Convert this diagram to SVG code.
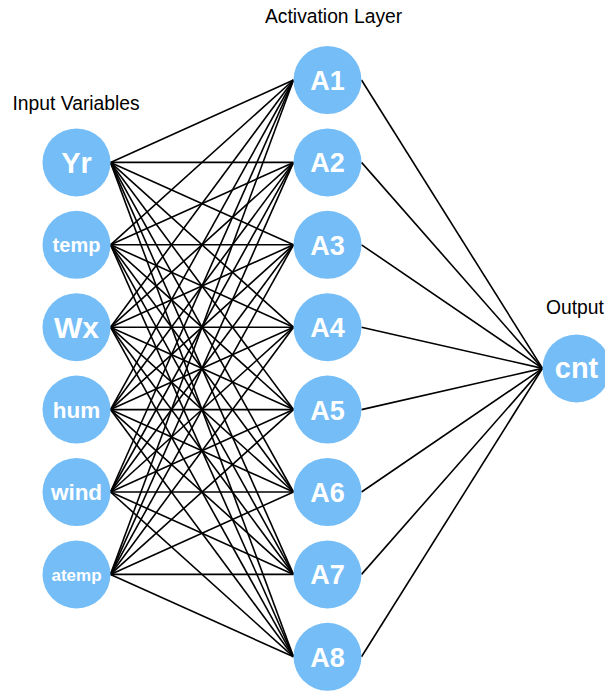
<svg xmlns="http://www.w3.org/2000/svg" width="605" height="691" viewBox="0 0 605 691">
<style>
.n{fill:#74bdf7}
.t{font-family:"Liberation Sans",Arial,sans-serif;font-weight:bold;fill:#fff;text-anchor:middle}
.h{font-family:"Liberation Sans",Arial,sans-serif;font-size:19.3px;fill:#000}
#edges line{stroke:#000;stroke-width:1.6}
</style>
<rect width="605" height="691" fill="#fff"/>
<g id="edges">
<line x1="110.5" y1="162.4" x2="293.5" y2="80"/><line x1="110.5" y1="162.4" x2="293.5" y2="162.4"/><line x1="110.5" y1="162.4" x2="293.5" y2="244.8"/><line x1="110.5" y1="162.4" x2="293.5" y2="327.2"/><line x1="110.5" y1="162.4" x2="293.5" y2="409.6"/><line x1="110.5" y1="162.4" x2="293.5" y2="492"/><line x1="110.5" y1="162.4" x2="293.5" y2="574.4"/><line x1="110.5" y1="162.4" x2="293.5" y2="656.8"/>
<line x1="110.5" y1="244.8" x2="293.5" y2="80"/><line x1="110.5" y1="244.8" x2="293.5" y2="162.4"/><line x1="110.5" y1="244.8" x2="293.5" y2="244.8"/><line x1="110.5" y1="244.8" x2="293.5" y2="327.2"/><line x1="110.5" y1="244.8" x2="293.5" y2="409.6"/><line x1="110.5" y1="244.8" x2="293.5" y2="492"/><line x1="110.5" y1="244.8" x2="293.5" y2="574.4"/><line x1="110.5" y1="244.8" x2="293.5" y2="656.8"/>
<line x1="110.5" y1="327.2" x2="293.5" y2="80"/><line x1="110.5" y1="327.2" x2="293.5" y2="162.4"/><line x1="110.5" y1="327.2" x2="293.5" y2="244.8"/><line x1="110.5" y1="327.2" x2="293.5" y2="327.2"/><line x1="110.5" y1="327.2" x2="293.5" y2="409.6"/><line x1="110.5" y1="327.2" x2="293.5" y2="492"/><line x1="110.5" y1="327.2" x2="293.5" y2="574.4"/><line x1="110.5" y1="327.2" x2="293.5" y2="656.8"/>
<line x1="110.5" y1="409.6" x2="293.5" y2="80"/><line x1="110.5" y1="409.6" x2="293.5" y2="162.4"/><line x1="110.5" y1="409.6" x2="293.5" y2="244.8"/><line x1="110.5" y1="409.6" x2="293.5" y2="327.2"/><line x1="110.5" y1="409.6" x2="293.5" y2="409.6"/><line x1="110.5" y1="409.6" x2="293.5" y2="492"/><line x1="110.5" y1="409.6" x2="293.5" y2="574.4"/><line x1="110.5" y1="409.6" x2="293.5" y2="656.8"/>
<line x1="110.5" y1="492" x2="293.5" y2="80"/><line x1="110.5" y1="492" x2="293.5" y2="162.4"/><line x1="110.5" y1="492" x2="293.5" y2="244.8"/><line x1="110.5" y1="492" x2="293.5" y2="327.2"/><line x1="110.5" y1="492" x2="293.5" y2="409.6"/><line x1="110.5" y1="492" x2="293.5" y2="492"/><line x1="110.5" y1="492" x2="293.5" y2="574.4"/><line x1="110.5" y1="492" x2="293.5" y2="656.8"/>
<line x1="110.5" y1="574.4" x2="293.5" y2="80"/><line x1="110.5" y1="574.4" x2="293.5" y2="162.4"/><line x1="110.5" y1="574.4" x2="293.5" y2="244.8"/><line x1="110.5" y1="574.4" x2="293.5" y2="327.2"/><line x1="110.5" y1="574.4" x2="293.5" y2="409.6"/><line x1="110.5" y1="574.4" x2="293.5" y2="492"/><line x1="110.5" y1="574.4" x2="293.5" y2="574.4"/><line x1="110.5" y1="574.4" x2="293.5" y2="656.8"/>
<line x1="361.5" y1="80" x2="542.5" y2="368.4"/><line x1="361.5" y1="162.4" x2="542.5" y2="368.4"/><line x1="361.5" y1="244.8" x2="542.5" y2="368.4"/><line x1="361.5" y1="327.2" x2="542.5" y2="368.4"/><line x1="361.5" y1="409.6" x2="542.5" y2="368.4"/><line x1="361.5" y1="492" x2="542.5" y2="368.4"/><line x1="361.5" y1="574.4" x2="542.5" y2="368.4"/><line x1="361.5" y1="656.8" x2="542.5" y2="368.4"/>
</g>
<text class="h" x="12.5" y="110">Input Variables</text>
<text class="h" x="265" y="23.3">Activation Layer</text>
<text class="h" x="546" y="314.3">Output</text>
<g id="yr"><circle class="n" cx="76.5" cy="162.4" r="34"/><text class="t" x="76.5" y="172.8" font-size="29">Yr</text></g>
<g id="temp"><circle class="n" cx="76.5" cy="244.8" r="34"/><text class="t" x="76.5" y="251.8" font-size="20">temp</text></g>
<g id="wx"><circle class="n" cx="76.5" cy="327.2" r="34"/><text class="t" x="76.5" y="338" font-size="30">Wx</text></g>
<g id="hum"><circle class="n" cx="76.5" cy="409.6" r="34"/><text class="t" x="76.5" y="417.6" font-size="22.5">hum</text></g>
<g id="wind"><circle class="n" cx="76.5" cy="492" r="34"/><text class="t" x="76.5" y="500" font-size="22.5">wind</text></g>
<g id="atemp"><circle class="n" cx="76.5" cy="574.4" r="34"/><text class="t" x="76.5" y="580.5" font-size="17">atemp</text></g>
<g id="a1"><circle class="n" cx="327.5" cy="80" r="34"/><text class="t" x="327.5" y="90" font-size="27">A1</text></g>
<g id="a2"><circle class="n" cx="327.5" cy="162.4" r="34"/><text class="t" x="327.5" y="172.4" font-size="27">A2</text></g>
<g id="a3"><circle class="n" cx="327.5" cy="244.8" r="34"/><text class="t" x="327.5" y="254.8" font-size="27">A3</text></g>
<g id="a4"><circle class="n" cx="327.5" cy="327.2" r="34"/><text class="t" x="327.5" y="337.2" font-size="27">A4</text></g>
<g id="a5"><circle class="n" cx="327.5" cy="409.6" r="34"/><text class="t" x="327.5" y="419.6" font-size="27">A5</text></g>
<g id="a6"><circle class="n" cx="327.5" cy="492" r="34"/><text class="t" x="327.5" y="502" font-size="27">A6</text></g>
<g id="a7"><circle class="n" cx="327.5" cy="574.4" r="34"/><text class="t" x="327.5" y="584.4" font-size="27">A7</text></g>
<g id="a8"><circle class="n" cx="327.5" cy="656.8" r="34"/><text class="t" x="327.5" y="666.8" font-size="27">A8</text></g>
<g id="cnt"><circle class="n" cx="576.5" cy="368.4" r="34"/><text class="t" x="576.5" y="377.5" font-size="29">cnt</text></g>
</svg>
